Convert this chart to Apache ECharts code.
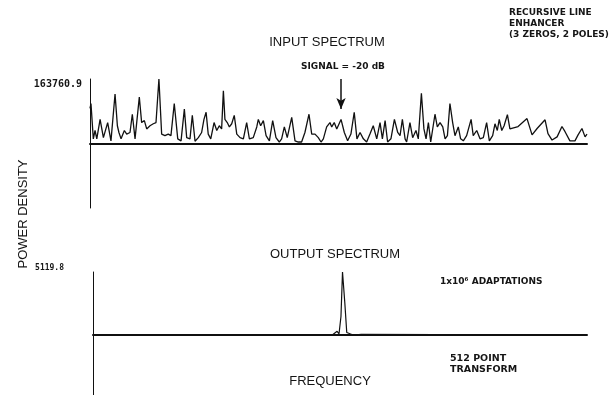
<!DOCTYPE html>
<html>
<head>
<meta charset="utf-8">
<script src="https://cdn.jsdelivr.net/npm/echarts@6/dist/echarts.min.js"></script>
<style>
html, body { margin: 0; background: #fff; }
#main { width: 609px; height: 395px; }
</style>
</head>
<body>
<div id="main"></div>
<script>
// frequency bins (512 point transform -> 256 bins) and power
var inputBin = [0, 0.5, 1.7, 2.6, 3.5, 5.2, 6.9, 9.1, 10.8, 12.9, 14.1, 14.9, 16.0, 17.7, 18.9, 20.6, 21.8, 23.2,
  25.4, 26.6, 28.0, 29.2, 30.9, 32.6, 34.0, 35.5, 36.9, 38.6, 40.3, 41.7, 43.4, 45.2, 46.9, 48.6, 49.8, 51.5,
  52.7, 54.1, 55.8, 57.5, 58.7, 59.8, 60.9, 62.2, 63.9, 65.3, 66.6, 67.8, 68.7, 69.5, 70.7, 71.8, 73.0, 74.3,
  75.6, 77.3, 79.0, 80.7, 82.1, 84.1, 85.9, 86.7, 87.9, 89.3, 90.7, 92.4, 94.1, 95.8, 97.5, 98.7, 100.1, 101.6,
  103.9, 105.6, 107.3, 109.0, 110.7, 112.8, 114.2, 115.9, 117.6, 119.0, 120.2, 121.9, 123.6, 124.5, 125.8, 127.1,
  129.3, 131.0, 132.7, 134.4, 136.1, 137.5, 139.1, 140.8, 142.5, 144.2, 145.9, 147.7, 149.4, 150.6, 152.0, 153.3,
  155.0, 156.8, 158.5, 159.7, 160.9, 162.3, 163.1, 164.8, 166.2, 167.9, 169.1, 170.7, 172.0, 173.1, 174.3, 175.5,
  176.5, 177.7, 178.9, 180.3, 181.7, 182.9, 184.1, 185.4, 186.8, 188.0, 189.7, 190.9, 192.3, 194.0, 196.3, 197.4,
  199.2, 200.9, 202.6, 204.3, 205.7, 207.4, 208.6, 209.8, 210.8, 212.1, 213.3, 215.0, 216.3, 220.5, 225.1, 227.7,
  230.3, 234.4, 235.9, 238.0, 240.6, 243.1, 244.7, 247.2, 249.8, 251.4, 253.4, 255.0, 256];
// input power in thousands
var inputPowerK = [90, 102, 13, 34, 13, 62, 16, 54, 8, 126, 46, 29, 13, 34, 25, 29, 75, 13,
  118, 54, 59, 38, 46, 51, 54, 163.7609, 25, 21, 25, 21, 102, 13, 8, 88, 16, 13,
  72, 7, 16, 29, 62, 80, 25, 13, 54, 34, 46, 38, 134, 62, 54, 43, 51, 72,
  25, 16, 13, 54, 13, 16, 43, 62, 46, 59, 21, 8, 59, 16, 5, 13, 43, 16,
  67, 8, 5, 5, 29, 75, 25, 25, 16, 5, 13, 43, 54, 43, 54, 38,
  62, 29, 8, 25, 80, 13, 29, 13, 5, 25, 46, 13, 54, 13, 59, 5,
  13, 62, 29, 21, 62, 13, 5, 54, 16, 34, 13, 128, 38, 13, 54, 5,
  8, 75, 43, 54, 43, 13, 21, 102, 54, 21, 43, 13, 8, 21, 62, 21,
  34, 13, 16, 54, 8, 21, 51, 34, 62, 34, 46, 74, 38, 44, 64, 23,
  39, 61, 26, 10, 18, 44, 31, 8, 8, 23, 39, 18, 25];

var outputBin = [0, 124, 125, 126.5, 127.5, 128.5, 129.3, 130.5, 131.5, 132.5, 133.5, 135, 139, 140, 256];
var outputPower = [0, 0, 150, 300, 100, 1500, 5119.8, 2600, 200, 250, 80, 0, 60, 0, 0];

// signal line marked by the arrow
var signalBin = 129.3;

var inputMax = 163760.9;
var outputMax = 5119.8;

var chart = echarts.init(document.getElementById('main'));

var inputData = inputBin.map(function (b, i) { return [b, inputPowerK[i] * 1000]; });
var outputData = outputBin.map(function (b, i) { return [b, outputPower[i]]; });

var txt = '#151515';
var lettering = 'Liberation Sans, Arial, sans-serif';
var small = 'DejaVu Sans, sans-serif';

function fixed1(v) { return v.toFixed(1); }

var option = {
  animation: false,
  backgroundColor: '#fff',
  grid: [
    { left: 90, top: 79, width: 497, height: 129 },
    { left: 93, top: 272, width: 494, height: 123 }
  ],
  xAxis: [
    {
      gridIndex: 0, type: 'value', min: 0, max: 256,
      axisLine: { onZero: true, lineStyle: { color: '#111', width: 2 } },
      axisTick: { show: false }, axisLabel: { show: false }, splitLine: { show: false }
    },
    {
      gridIndex: 1, type: 'value', min: 0, max: 256,
      axisLine: { onZero: true, lineStyle: { color: '#111', width: 2 } },
      axisTick: { show: false }, axisLabel: { show: false }, splitLine: { show: false }
    }
  ],
  yAxis: [
    {
      gridIndex: 0, type: 'value',
      min: -inputMax * 64 / 65, max: inputMax,
      axisLine: { show: true, lineStyle: { color: '#111', width: 1 } },
      axisTick: { show: false }, splitLine: { show: false },
      axisLabel: {
        customValues: [inputMax], formatter: fixed1, margin: 8, verticalAlign: 'top',
        color: txt, fontFamily: 'DejaVu Sans Mono', fontSize: 10, fontWeight: 'bold'
      }
    },
    {
      gridIndex: 1, type: 'value',
      min: -outputMax * 60 / 63, max: outputMax,
      axisLine: { show: true, lineStyle: { color: '#111', width: 1 } },
      axisTick: { show: false }, splitLine: { show: false },
      axisLabel: {
        customValues: [outputMax], formatter: fixed1, margin: 29, verticalAlign: 'bottom',
        color: txt, fontFamily: 'DejaVu Sans Mono', fontSize: 8, fontWeight: 'bold'
      }
    }
  ],
  series: [
    {
      name: 'Input spectrum', type: 'line', xAxisIndex: 0, yAxisIndex: 0,
      data: inputData, showSymbol: false,
      lineStyle: { color: '#111', width: 1.3 },
      markLine: {
        silent: true, symbol: ['none', 'arrow'], symbolSize: [7, 11],
        label: { show: false },
        lineStyle: { color: '#111', width: 1.5, type: 'solid' },
        data: [[{ coord: [signalBin, inputMax] }, { coord: [signalBin, inputMax * 0.54] }]]
      }
    },
    {
      name: 'Output spectrum', type: 'line', xAxisIndex: 1, yAxisIndex: 1,
      data: outputData, showSymbol: false,
      lineStyle: { color: '#111', width: 1.2 }
    }
  ],
  graphic: [
    { type: 'text', style: { text: 'INPUT SPECTRUM', x: 327, y: 42, align: 'center', verticalAlign: 'middle', font: '13px ' + lettering, fill: txt } },
    { type: 'text', style: { text: 'SIGNAL = -20 dB', x: 343, y: 67, align: 'center', verticalAlign: 'middle', font: 'bold 9px ' + small, fill: txt } },
    { type: 'text', style: { text: 'RECURSIVE LINE\nENHANCER\n(3 ZEROS, 2 POLES)', x: 509, y: 7, align: 'left', verticalAlign: 'top', lineHeight: 11, font: 'bold 9px ' + small, fill: txt } },
    { type: 'text', rotation: Math.PI / 2, x: 23, y: 214, style: { text: 'POWER DENSITY', x: 0, y: 0, align: 'center', verticalAlign: 'middle', font: '13px ' + lettering, fill: txt } },
    { type: 'text', style: { text: 'OUTPUT SPECTRUM', x: 335, y: 254, align: 'center', verticalAlign: 'middle', font: '13px ' + lettering, fill: txt } },
    { type: 'text', style: { text: '1x10\u2076 ADAPTATIONS', x: 440, y: 282, align: 'left', verticalAlign: 'middle', font: 'bold 9px ' + small, fill: txt } },
    { type: 'text', style: { text: '512 POINT\nTRANSFORM', x: 450, y: 353, align: 'left', verticalAlign: 'top', lineHeight: 11, font: 'bold 9.5px ' + small, fill: txt } },
    { type: 'text', style: { text: 'FREQUENCY', x: 330, y: 381, align: 'center', verticalAlign: 'middle', font: '13px ' + lettering, fill: txt } }
  ]
};

chart.setOption(option);
</script>
</body>
</html>
